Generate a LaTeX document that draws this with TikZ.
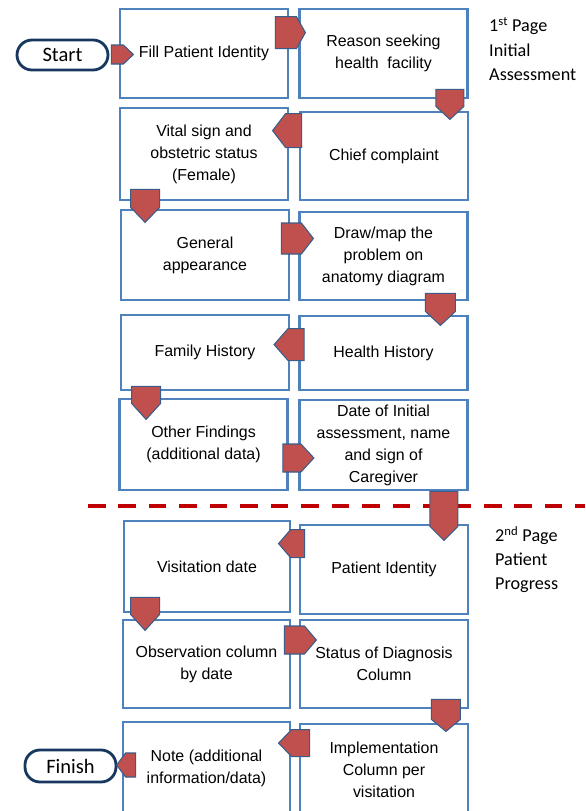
\documentclass[tikz,border=0pt]{standalone}
\usepackage{fontspec}
\setmainfont{Liberation Sans}
\newfontfamily\calibri{Carlito}
\usetikzlibrary{calc}
\definecolor{boxblue}{RGB}{79,129,189}
\definecolor{platered}{RGB}{192,80,77}
\definecolor{plateedge}{RGB}{56,93,138}
\definecolor{dashred}{RGB}{192,0,0}
\definecolor{termnavy}{RGB}{23,55,94}
\newcommand{\px}{0.03cm}
\tikzset{
  stepbox/.style={draw=boxblue,line width=2.4pt,fill=white,minimum width=168*\px,minimum height=89*\px,align=center,inner sep=2pt,font=\fontsize{13.6}{18.8}\selectfont},
  terminal/.style={draw=termnavy,line width=2.4pt,rounded corners=0.45cm,minimum width=91*\px,minimum height=30*\px,font=\calibri\fontsize{17.5}{20}\selectfont},
  pagelabel/.style={align=left,anchor=west,inner sep=0pt,font=\calibri\fontsize{15.5}{20.5}\selectfont},
  pics/plate/.style n args={3}{code={\filldraw[fill=platered,draw=plateedge,line width=0.9pt] (0,-#2) -- (#1,-#2) -- (#1+#3,0) -- (#1,#2) -- (0,#2) -- cycle;}}
}

\begin{document}
\begin{tikzpicture}[x=0.03cm,y=-0.03cm]
    \useasboundingbox (0,0) rectangle (585,811);
    \draw[dashred,line width=4pt,dash pattern=on 15pt off 11pt] (88,506) -- (585,506);
    \node[terminal] (start) at (62.5,55) {Start};
    \node[terminal,minimum height=32*\px] (finish) at (70.5,766) {Finish};
    \node[stepbox] (fill) at (204,53.5) {Fill Patient Identity};
    \node[stepbox] (reason) at (383.5,53.5) {Reason seeking\\health\ \ facility};
    \node[stepbox,minimum height=92*\px] (vital) at (204,154) {Vital sign and\\obstetric status\\(Female)};
    \node[stepbox,minimum height=88*\px] (chief) at (384,156) {Chief complaint};
    \node[stepbox,minimum height=90*\px] (general) at (205,255) {General\\appearance};
    \node[stepbox,minimum height=88*\px] (drawmap) at (383.5,256) {Draw/map the\\problem on\\anatomy diagram};
    \node[stepbox,minimum height=75*\px] (family) at (205,352.5) {Family History};
    \node[stepbox,minimum height=74*\px] (health) at (383.5,353) {Health History};
    \node[stepbox,minimum height=91*\px] (other) at (203.5,444.5) {Other Findings\\(additional data)};
    \node[stepbox,minimum height=90*\px] (date) at (383.5,445) {Date of Initial\\assessment, name\\and sign of\\Caregiver};
    \node[stepbox,minimum width=166*\px,minimum height=91*\px] (visit) at (207,566.5) {Visitation date};
    \node[stepbox] (patid) at (384,569.5) {Patient Identity};
    \node[stepbox,minimum width=167*\px,minimum height=88*\px] (obs) at (206.5,664) {Observation column\\by date};
    \node[stepbox,minimum height=88*\px] (status) at (384,664) {Status of Diagnosis\\Column};
    \node[stepbox,minimum width=167*\px,minimum height=93*\px] (note) at (206.5,768.5) {Note (additional\\information/data)};
    \node[stepbox,minimum height=91*\px] (impl) at (384,769.5) {Implementation\\Column per\\visitation};
    \node[pagelabel] (page1) at (489,49) {1\textsuperscript{st} Page\\Initial\\Assessment};
    \node[pagelabel] (page2) at (495,560) {2\textsuperscript{nd} Page\\Patient\\Progress};
    \pic at ($(start.east)+(2,-0.5)$) {plate={12}{9.5}{10}};
    \pic at ($(fill.north east)+(-14,25)$) {plate={21}{16}{9}};
    \pic[rotate=-90] at ($(reason.south east)+(-19,-10)$) {plate={17}{14}{13}};
    \pic[rotate=180] at ($(chief.north west)+(3,20)$) {plate={16}{17}{13}};
    \pic[rotate=-90] at ($(vital.south west)+(26.5,-12)$) {plate={18}{14.5}{15}};
    \pic at ($(general.east)+(-9,-16.5)$) {plate={20}{15.5}{12}};
    \pic[rotate=-90] at ($(drawmap.south east)+(-28.5,-8)$) {plate={18}{15}{14}};
    \pic[rotate=180] at ($(health.north west)+(6,30)$) {plate={16}{16}{14}};
    \pic[rotate=-90] at ($(family.south west)+(26.5,-5)$) {plate={17}{14.5}{16}};
    \pic at ($(other.east)+(-6,13.5)$) {plate={18}{14}{13}};
    \pic[rotate=-90] at ($(date.south east)+(-25,0)$) {plate={35}{14}{14}};
    \pic[rotate=180] at ($(patid.north west)+(6,20)$) {plate={14}{14}{12}};
    \pic[rotate=-90] at ($(visit.south west)+(22.5,-16)$) {plate={17}{14.5}{16}};
    \pic at ($(obs.east)+(-7,-24)$) {plate={20}{14}{12}};
    \pic[rotate=-90] at ($(status.south east)+(-23.5,-10)$) {plate={20}{14.5}{12}};
    \pic[rotate=180] at ($(impl.north west)+(11,20.5)$) {plate={18}{13.5}{13}};
    \pic[rotate=180] at ($(note.west)+(14,-3.5)$) {plate={10}{12}{9}};
\end{tikzpicture}
\end{document}
